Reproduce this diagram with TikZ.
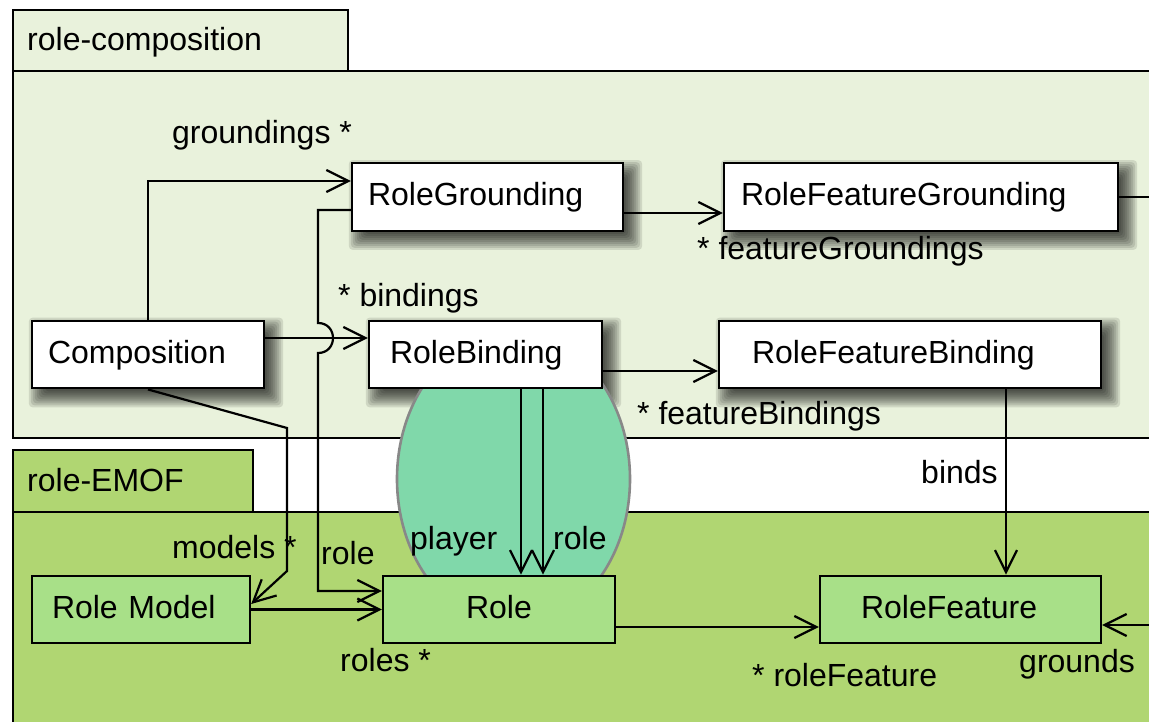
\documentclass[tikz,border=0pt]{standalone}
\usepackage{fontspec}
\setmainfont{Liberation Sans}
\usetikzlibrary{arrows.meta}

\pgfdeclarelayer{packages}
\pgfdeclarelayer{shadows}
\pgfdeclarelayer{blob}
\pgfsetlayers{packages,shadows,blob,main}

\definecolor{compbg}{RGB}{233,242,220}
\definecolor{emofbg}{RGB}{176,214,114}
\definecolor{boxgreen}{RGB}{168,224,136}
\definecolor{mint}{RGB}{128,216,170}
\definecolor{blobedge}{RGB}{136,136,136}

\tikzset{
  every node/.style={font=\fontsize{32}{38}\selectfont},
  pkg/.style={draw, line width=2.4pt},
  cls/.style={draw, line width=2.4pt, fill=white, text height=24pt,
    text depth=7pt, minimum height=67.5pt, align=left},
  emof/.style={cls, fill=boxgreen},
  link/.style={line width=2.2pt},
  assoc/.style={link, -{Straight Barb[length=22pt,width=22pt]}},
  lbl/.style={anchor=base west, inner sep=0pt},
}

% soft drop shadow behind a class box
\newcommand\castshadow[1]{%
  \foreach \r in {0,2,...,16}{%
    \fill[black, opacity=0.11, rounded corners=4pt]
      ([xshift=14pt-\r pt, yshift=\r pt-14pt]#1.north west) rectangle
      ([xshift=\r pt+2pt, yshift=-\r pt-2pt]#1.south east);
  }}

\begin{document}
\begin{tikzpicture}[x=1pt,y=-1pt]
\useasboundingbox (0,0) rectangle (1149,722);

% packages
\begin{pgfonlayer}{packages}
  \draw[pkg, fill=compbg] (13,10) rectangle (348,71);
  \draw[pkg, fill=compbg] (13,71) rectangle (1170,438);
  \draw[pkg, fill=emofbg] (13,450) rectangle (253,512);
  \draw[pkg, fill=emofbg] (13,512) rectangle (1170,740);
\end{pgfonlayer}
\node[lbl] (pkgcomp) at (27,51) {role-composition};
\node[lbl] (pkgemof) at (27,491) {role-EMOF};

% binding region
\begin{pgfonlayer}{blob}
  \filldraw[fill=mint, draw=blobedge, line width=2.6pt]
    (513.5,479) ellipse [x radius=116.5, y radius=147];
\end{pgfonlayer}

% classes of role-composition
\node[cls, text width=239pt, inner xsep=16pt] (RG)  at (487.5,197)   {RoleGrounding};
\node[cls, text width=360pt, inner xsep=17pt] (RFG) at (921,197)     {RoleFeatureGrounding};
\node[cls, text width=200pt, inner xsep=16pt] (Comp) at (148,354.5)  {Composition};
\node[cls, text width=191pt, inner xsep=21pt] (RB)  at (485.5,354.5) {RoleBinding};
\node[cls, text width=316pt, inner xsep=33pt] (RFB) at (910,354.5)   {RoleFeatureBinding};

% classes of role-EMOF
\node[emof, text width=178pt, inner xsep=20pt] (RM) at (141,609.5) {Role Model};
\node[emof, text width=232pt, inner xsep=0pt, align=center] (Role) at (499,609.5) {Role};
\node[emof, text width=199pt, inner xsep=41pt] (RF) at (960.5,609.5) {RoleFeature};

\begin{pgfonlayer}{shadows}
  \castshadow{RG}
  \castshadow{RFG}
  \castshadow{Comp}
  \castshadow{RB}
  \castshadow{RFB}
\end{pgfonlayer}

% associations
\draw[assoc] (Comp.north) |- ([yshift=16pt]RG.west);
\draw[assoc] ([yshift=16.5pt]Comp.east) -- ([yshift=16.5pt]RB.west);

\coordinate (hopTop) at (318,323);
\coordinate (hopBot) at (318,353);
\draw[assoc] ([yshift=-13pt]RG.west) -| (hopTop)
  .. controls (338,323) and (338,353) .. (hopBot)
  |- ([yshift=18.5pt]Role.west);

\coordinate (mBend1) at (287,428);
\coordinate (mBend2) at (287,571);
\draw[assoc] (Comp.south) -- (mBend1) -- (mBend2) -- ([yshift=5.5pt]RM.east);

\draw[assoc] (RM.east) -- (Role.west);
\draw[assoc] ([xshift=35.5pt]RB.south) -- ([xshift=35.5pt]RB.south |- Role.north);
\draw[assoc] ([xshift=57.5pt]RB.south) -- ([xshift=57.5pt]RB.south |- Role.north);
\draw[assoc] ([yshift=-16pt]RG.east) -- ([yshift=-16pt]RFG.west);
\draw[assoc] ([yshift=-16.5pt]RB.east) -- ([yshift=-16.5pt]RFB.west);
\draw[assoc] ([xshift=96pt]RFB.south) -- ([xshift=96pt]RFB.south |- RF.north);
\draw[assoc] ([yshift=-17.5pt]Role.east) -- ([yshift=-17.5pt]RF.west);

\coordinate (outA) at (1170,197);
\coordinate (outB) at (1170,625);
\draw[link] (RFG.east) -- (outA);
\draw[assoc] (outB) -- ([yshift=-15.5pt]RF.east);

% association end labels
\node[lbl] (lGroundings) at (172,144) {groundings *};
\node[lbl] (lFeatGround) at (697,260) {* featureGroundings};
\node[lbl] (lBindings)   at (338,306) {* bindings};
\node[lbl] (lFeatBind)   at (637,424) {* featureBindings};
\node[lbl] (lBinds)      at (921,483) {binds};
\node[lbl] (lModels)     at (172,558) {models *};
\node[lbl] (lRoleL)      at (321,564) {role};
\node[lbl] (lPlayer)     at (410,549) {player};
\node[lbl] (lRoleR)      at (553,549) {role};
\node[lbl] (lRoles)      at (340,671) {roles *};
\node[lbl] (lRoleFeat)   at (752,686) {* roleFeature};
\node[lbl] (lGrounds)    at (1019,672) {grounds};
\end{tikzpicture}
\end{document}
